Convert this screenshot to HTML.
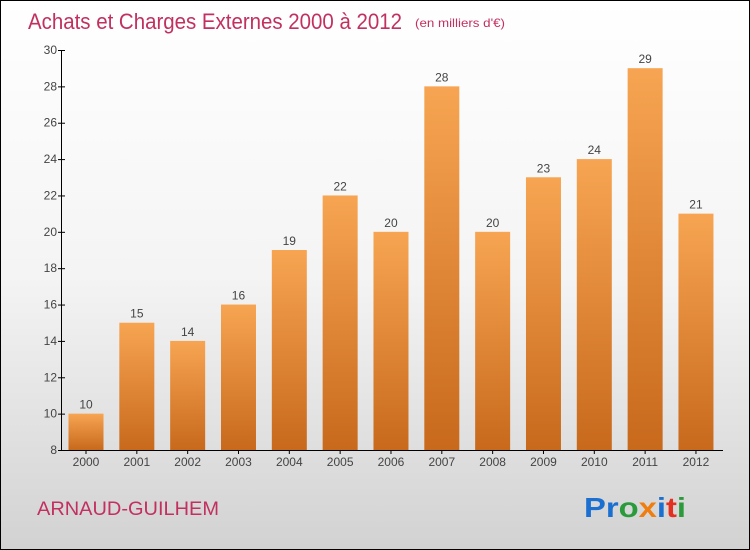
<!DOCTYPE html>
<html><head><meta charset="utf-8"><style>
body{margin:0}
#c{position:relative;width:748px;height:548px;border:1px solid #000;background:linear-gradient(#ffffff 0%,#f4f4f4 50%,#d2d2d2 100%);overflow:hidden;font-family:"Liberation Sans",sans-serif}
</style></head><body>
<div id="c">
<svg id="s" width="748" height="548">
<defs><linearGradient id="g" x1="0" y1="0" x2="0" y2="1"><stop offset="0" stop-color="#f7a552"/><stop offset="1" stop-color="#c8691c"/></linearGradient></defs>
<text x="27" y="28" font-size="22" fill="#c2305f" textLength="374" lengthAdjust="spacingAndGlyphs">Achats et Charges Externes 2000 à 2012</text>
<text x="414" y="26" font-size="12" fill="#c2305f" textLength="90" lengthAdjust="spacingAndGlyphs">(en milliers d'€)</text>
<text x="36" y="514" font-size="19" fill="#c2305f" textLength="182" lengthAdjust="spacingAndGlyphs">ARNAUD-GUILHEM</text>
<text x="583" y="516" font-size="28" font-weight="bold" textLength="102" lengthAdjust="spacingAndGlyphs"><tspan fill="#1a6fd0">Pr</tspan><tspan fill="#2a9a3a">o</tspan><tspan fill="#f07d10">x</tspan><tspan fill="#1a6fd0">i</tspan><tspan fill="#e33020">t</tspan><tspan fill="#2a9a3a">i</tspan></text>
<g id="plot"></g>
</svg></div>
<script>
const categories=["2000","2001","2002","2003","2004","2005","2006","2007","2008","2009","2010","2011","2012"];
const values=[10,15,14,16,19,22,20,28,20,23,24,29,21];
const yTicks=[8,10,12,14,16,18,20,22,24,26,28,30];
const NS="http://www.w3.org/2000/svg";
const g=document.getElementById('plot');
const y0=449,y1=49,vmin=8,vmax=30;
const y=v=>y0-(v-vmin)/(vmax-vmin)*(y0-y1);
const x=i=>84.5+i*50.83;
function mk(t,a){const e=document.createElementNS(NS,t);for(const k in a)e.setAttribute(k,a[k]);g.appendChild(e);return e;}
let ax=mk('line',{x1:60.5,x2:60.5,y1:y1,y2:y0,stroke:'#000'});


let bx=mk('line',{x1:60,x2:722,y1:y0+0.5,y2:y0+0.5,stroke:'#000'});


yTicks.forEach(v=>{
 let t=mk('line',{x1:57,x2:64,y1:y(v)+0.5,y2:y(v)+0.5,stroke:'#000'});
 
 
 let l=mk('text',{x:56,y:y(v)+4,'font-size':12,fill:'#444','text-anchor':'end'});l.textContent=v;
 
 
});
categories.forEach((c,i)=>{
 let r=mk('rect',{x:x(i)-17,y:y(values[i]),width:35,height:y0-y(values[i]),fill:'url(#g)'});
 
 
 let vl=mk('text',{x:x(i)+0.5,y:y(values[i])-5,'font-size':12,fill:'#444','text-anchor':'middle'});vl.textContent=values[i];
 
 
 let tk=mk('line',{x1:x(i)+0.5,x2:x(i)+0.5,y1:y0,y2:y0+4,stroke:'#000'});
 
 
 let xl=mk('text',{x:x(i)+0.5,y:y0+16,'font-size':12,fill:'#444','text-anchor':'middle'});xl.textContent=c;
 
 
});
</script>
</body></html>
